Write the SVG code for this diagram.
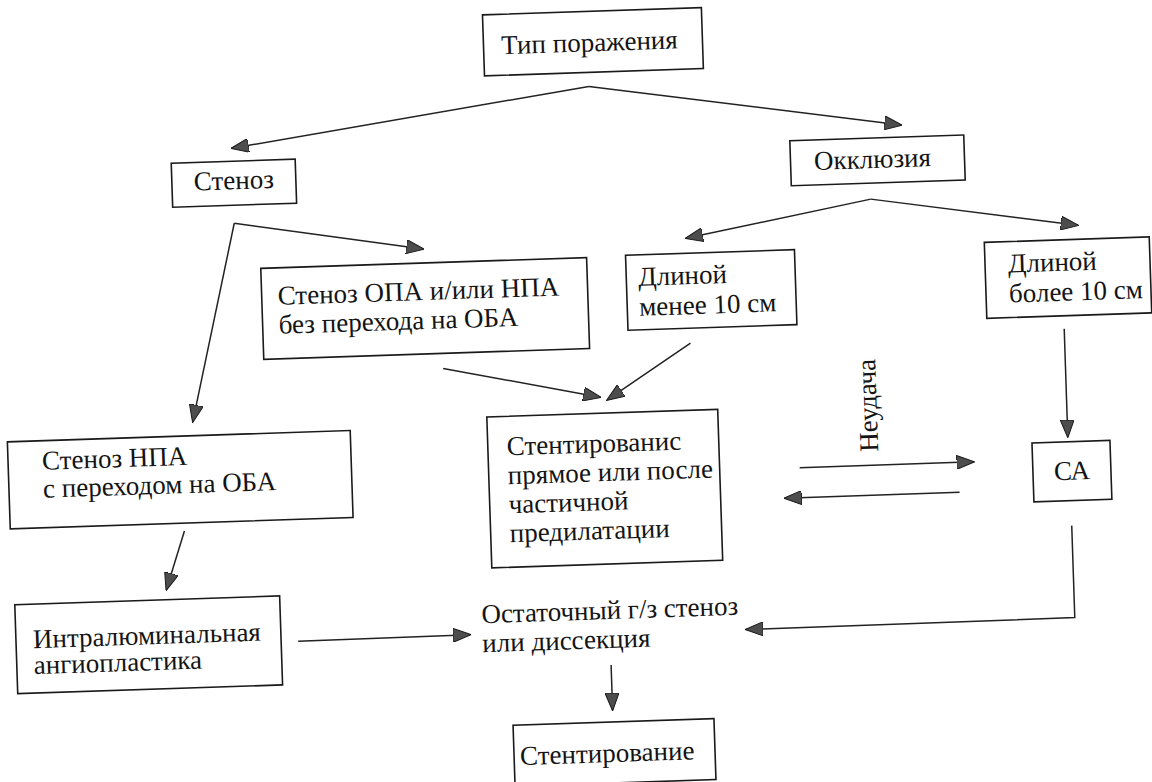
<svg xmlns="http://www.w3.org/2000/svg" width="1152" height="782" viewBox="0 0 1152 782">
<style>
.box{fill:none;stroke:#1a1a1a;stroke-width:1.6}
.t{font-family:'Liberation Serif','Tinos','Times New Roman','DejaVu Serif Condensed','DejaVu Serif',serif;font-size:27px;fill:#141414}
.c{text-anchor:middle}
.ln{fill:none;stroke:#222;stroke-width:1.5}
</style>
<defs>
<marker id="ah" markerUnits="userSpaceOnUse" markerWidth="18" markerHeight="14" refX="17" refY="7" orient="auto">
<path d="M0,0 L18,7 L0,14 Z" fill="#4d4d4d" stroke="#1a1a1a" stroke-width="1"/>
</marker>
</defs>
<rect x="0" y="0" width="1152" height="782" fill="#ffffff"/>
<g transform="rotate(-1.9 576 391)" font-family="'Liberation Serif','Tinos','Times New Roman','DejaVu Serif Condensed','DejaVu Serif',serif">
<g id="connectors">
<polyline class="ln" points="599,87 240,137" marker-end="url(#ah)"/>
<polyline class="ln" points="599,87 910,136" marker-end="url(#ah)"/>
<polyline class="ln" points="877,209 691,242" marker-end="url(#ah)"/>
<polyline class="ln" points="877,209 1083,242" marker-end="url(#ah)"/>
<polyline class="ln" points="240,212 428,244" marker-end="url(#ah)"/>
<polyline class="ln" points="240,212 192,409" marker-end="url(#ah)"/>
<polyline class="ln" points="444,364 600,398" marker-end="url(#ah)"/>
<polyline class="ln" points="692,347 607,401" marker-end="url(#ah)"/>
<polyline class="ln" points="1066,345 1066,453" marker-end="url(#ah)"/>
<polyline class="ln" points="797,475 971,475" marker-end="url(#ah)"/>
<polyline class="ln" points="956,505 781,505" marker-end="url(#ah)"/>
<polyline class="ln" points="1067,542 1067,634 738,635" marker-end="url(#ah)"/>
<polyline class="ln" points="290,632 462,631" marker-end="url(#ah)"/>
<polyline class="ln" points="180,518 160,576" marker-end="url(#ah)"/>
<polyline class="ln" points="602,666 602,711" marker-end="url(#ah)"/>
<text class="t c" transform="translate(876,415) rotate(-90)">Неудача</text>
</g>
<g id="n-tip">
<rect class="box" x="495" y="12" width="219" height="61"/>
<text class="t c" x="601" y="52">Тип поражения</text>
</g>
<g id="n-stenoz">
<rect class="box" x="179" y="150" width="124" height="44"/>
<text class="t c" x="241" y="178">Стеноз</text>
</g>
<g id="n-okkl">
<rect class="box" x="798" y="148" width="174" height="45"/>
<text class="t c" x="880" y="178">Окклюзия</text>
</g>
<g id="n-less10">
<rect class="box" x="630" y="257" width="169" height="75"/>
<text class="t" x="642" y="288">Длиной</text>
<text class="t" x="642" y="318">менее 10 см</text>
</g>
<g id="n-more10">
<rect class="box" x="989" y="256" width="165" height="76"/>
<text class="t" x="1012" y="287">Длиной</text>
<text class="t" x="1012" y="317">более 10 см</text>
</g>
<g id="n-stenoz-opa">
<rect class="box" x="265" y="258" width="326" height="91"/>
<text class="t" x="281" y="295">Стеноз ОПА и/или НПА</text>
<text class="t" x="281" y="324">без перехода на ОБА</text>
</g>
<g id="n-stenoz-npa">
<rect class="box" x="6" y="423" width="343" height="87"/>
<text class="t" x="40" y="452">Стеноз НПА</text>
<text class="t" x="40" y="480">с переходом на ОБА</text>
</g>
<g id="n-stent-direct">
<rect class="box" x="486" y="414" width="231" height="151"/>
<text class="t" x="505" y="453">Стентированис</text>
<text class="t" x="505" y="482">прямое или после</text>
<text class="t" x="505" y="511">частичной</text>
<text class="t" x="505" y="540">предилатации</text>
</g>
<g id="n-ca">
<rect class="box" x="1030" y="458" width="78" height="59"/>
<text class="t c" x="1069" y="496">СА</text>
</g>
<g id="n-intra">
<rect class="box" x="8" y="586" width="265" height="89"/>
<text class="t" x="25" y="630">Интралюминальная</text>
<text class="t" x="25" y="656">ангиопластика</text>
</g>
<g id="n-residual">
<text class="t" x="474" y="620">Остаточный г/з стеноз</text>
<text class="t" x="474" y="649">или диссекция</text>
</g>
<g id="n-stent">
<rect class="box" x="502" y="723" width="201" height="61"/>
<text class="t" x="508" y="763">Стентирование</text>
</g>
</g>
</svg>
